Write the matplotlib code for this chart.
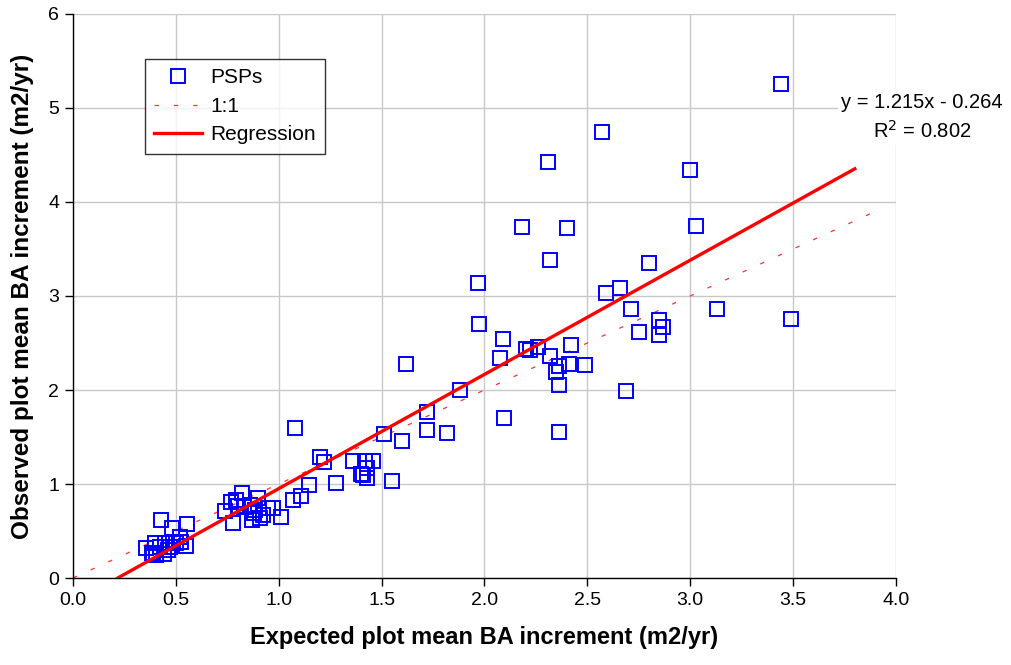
import matplotlib
matplotlib.use("Agg")
import matplotlib.pyplot as plt
import numpy as np

plt.rcParams["font.family"] = ["Liberation Sans", "DejaVu Sans"]

# expected vs observed plot mean BA increment (m2/yr)
expected = [
    # low cluster
    0.43, 0.556, 0.48, 0.355, 0.40, 0.403, 0.444, 0.447, 0.471, 0.52,
    0.549, 0.488, 0.50, 0.423, 0.463, 0.383, 0.525, 0.39,
    # second cluster
    0.82, 0.77, 0.79, 0.74, 0.78, 0.90, 0.83, 0.86, 0.885, 0.87,
    0.91, 0.925, 0.97, 1.01, 0.95, 0.80, 0.88,
    # middle
    1.08, 1.20, 1.22, 1.36, 1.42, 1.46, 1.40, 1.43, 1.43, 1.28,
    1.55, 1.147, 1.11, 1.07, 1.51, 1.60, 1.41,
    # upper middle
    1.62, 2.09, 2.075, 2.20, 2.26, 2.22, 2.32, 2.42, 2.41, 2.36,
    2.35, 2.36, 2.49, 1.88, 1.72, 1.72, 1.82, 2.095, 2.36, 1.975,
    # right side
    2.80, 2.66, 2.59, 2.71, 3.13, 3.49, 2.85, 2.87, 2.85, 2.75, 2.69,
    # high outliers
    2.31, 3.00, 2.18, 2.40, 3.03, 2.32, 1.97, 2.57, 3.44,
]
observed = [
    0.617, 0.574, 0.528, 0.316, 0.376, 0.245, 0.255, 0.376, 0.333, 0.44,
    0.34, 0.369, 0.376, 0.333, 0.298, 0.263, 0.386, 0.24,
    0.90, 0.81, 0.83, 0.71, 0.58, 0.85, 0.76, 0.78, 0.72, 0.62,
    0.64, 0.67, 0.74, 0.65, 0.75, 0.77, 0.69,
    1.592, 1.29, 1.23, 1.245, 1.24, 1.245, 1.11, 1.17, 1.06, 1.01,
    1.03, 0.99, 0.87, 0.83, 1.53, 1.46, 1.10,
    2.28, 2.54, 2.34, 2.44, 2.46, 2.43, 2.36, 2.48, 2.28, 2.26,
    2.19, 2.05, 2.27, 2.00, 1.77, 1.57, 1.54, 1.70, 1.55, 2.70,
    3.35, 3.09, 3.03, 2.86, 2.86, 2.76, 2.74, 2.67, 2.59, 2.62, 1.99,
    4.43, 4.34, 3.73, 3.72, 3.74, 3.38, 3.14, 4.74, 5.255,
]

reg_slope = 1.215
reg_intercept = -0.264
reg_r2 = 0.802
reg_x_range = [0.217, 3.80]
one_to_one_range = [0.0, 3.93]

fig = plt.figure(figsize=(10.11, 6.65), dpi=100)
ax = fig.add_axes([0.0722, 0.1308, 0.8140, 0.8482])

ax.plot(expected, observed, linestyle="none", marker="s", markersize=10.5,
        markerfacecolor="none", markeredgecolor="#0000FF", markeredgewidth=1.4,
        label="PSPs", zorder=3)
ax.plot(one_to_one_range, one_to_one_range, color="#FF3030", lw=0.9,
        dashes=(3.5, 12), label="1:1", zorder=2)
rx = np.array(reg_x_range)
ax.plot(rx, reg_slope * rx + reg_intercept, color="#FF0000", lw=2.4,
        label="Regression", zorder=4)

ax.set_xlim(0, 4)
ax.set_ylim(0, 6)
ax.set_xticks(np.arange(0, 4.01, 0.5))
ax.set_xticklabels([f"{v:.1f}" for v in np.arange(0, 4.01, 0.5)])
ax.set_yticks(range(7))
ax.grid(True, color="#c8c8c8", lw=1.0)
ax.set_axisbelow(True)
for s in ("top", "right"):
    ax.spines[s].set_visible(False)
for s in ("left", "bottom"):
    ax.spines[s].set_color("black")
    ax.spines[s].set_linewidth(1.0)
ax.tick_params(direction="out", length=6, width=1, labelsize=14, pad=4)

ax.set_xlabel("Expected plot mean BA increment (m2/yr)", fontsize=17,
              fontweight="bold", labelpad=12)
ax.set_ylabel("Observed plot mean BA increment (m2/yr)", fontsize=17.5,
              fontweight="bold", labelpad=10)

leg = ax.legend(loc="upper left", bbox_to_anchor=(0.087, 0.92), fontsize=15,
                frameon=True, fancybox=False, edgecolor="black",
                borderpad=0.45, handlelength=2.3, handletextpad=0.4,
                labelspacing=0.45, borderaxespad=0)
leg.get_frame().set_linewidth(1.0)

fig.text(0.912, 0.823, f"y = {reg_slope:.3f}x - {abs(reg_intercept):.3f}\n"
         f"R$^2$ = {reg_r2:.3f}", ha="center", va="center", fontsize=14.5,
         linespacing=1.45, multialignment="center",
         bbox=dict(facecolor="white", edgecolor="none", pad=2))

fig.savefig("out.png", dpi=100)
